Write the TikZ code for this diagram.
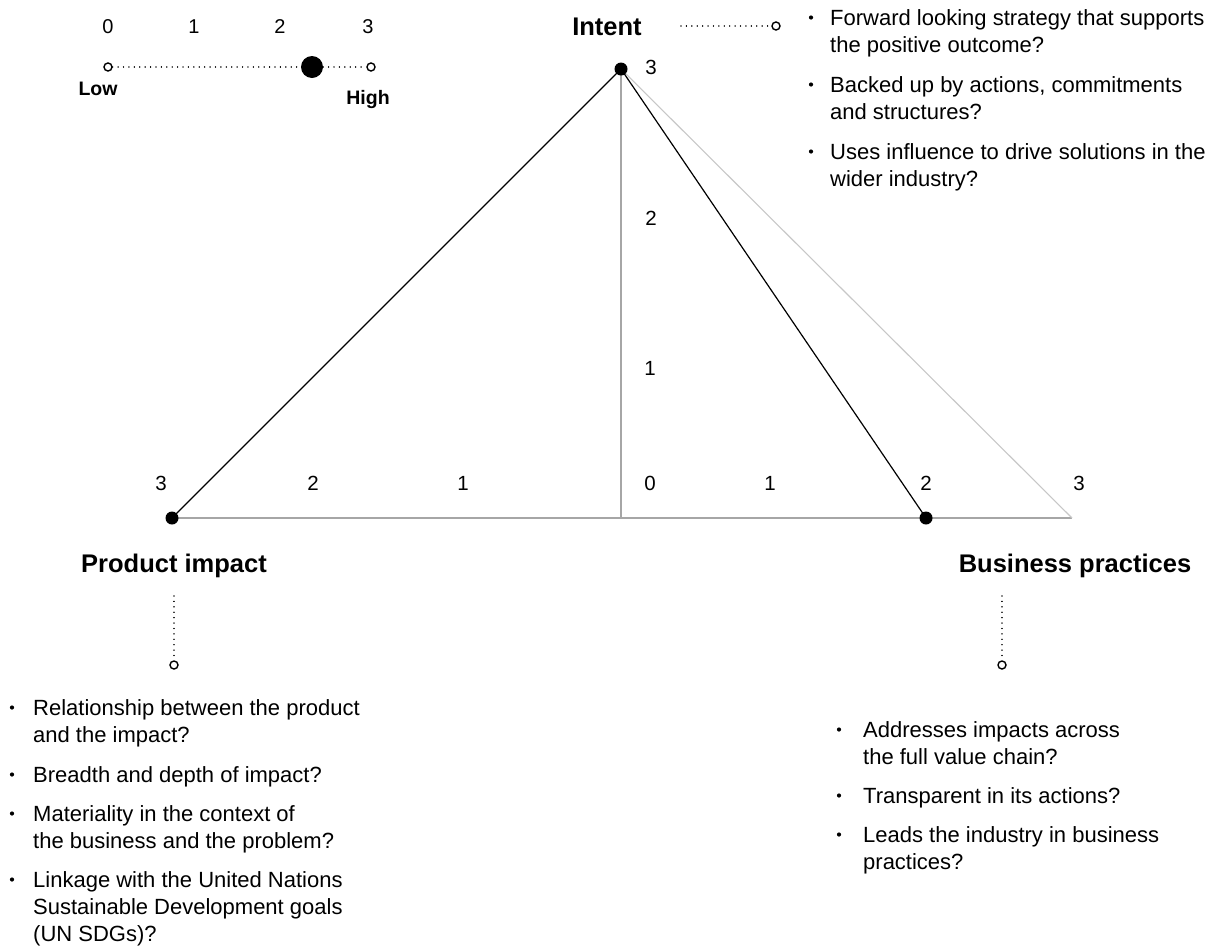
\documentclass[tikz,border=0pt]{standalone}
\usepackage{fontspec}
\setmainfont{Liberation Sans}
\newcommand{\bodyfont}{\fontsize{22}{27}\selectfont}
\newcommand{\lines}[1]{\begin{tabular}[t]{@{}l@{}}#1\end{tabular}}
\begin{document}
\begin{tikzpicture}[x=1pt,y=-1pt,
  num/.style={font=\fontsize{20.5}{24}\selectfont, inner sep=0pt},
  lnum/.style={font=\fontsize{20}{24}\selectfont, inner sep=0pt},
  ttl/.style={font=\bfseries\fontsize{25.5}{30}\selectfont, inner sep=0pt, anchor=base},
  lh/.style={font=\bfseries\fontsize{19.5}{22}\selectfont, inner sep=0pt, anchor=base},
  txt/.style={font=\bodyfont, inner sep=0pt, anchor=base west},
  bul/.style={circle, fill=black, inner sep=0pt, minimum size=4.2pt, yshift=7.5pt},
  dotline/.style={line width=1.4pt, dash pattern=on 0.01pt off 5.4pt, line cap=round},
  ring/.style={circle, draw, line width=1.4pt, fill=white, inner sep=0pt, minimum size=8pt},
  vdot/.style={circle, fill=black, inner sep=0pt, minimum size=13pt},
  axis/.style={draw=black!35, line width=1.8pt},
  thin grey/.style={draw=black!22, line width=1.1pt},
  edge/.style={draw=black, line width=1.2pt}
]
\useasboundingbox (0,0) rectangle (1227,946);
% coordinates
\coordinate (I) at (621,69);
\coordinate (P) at (172,518);
\coordinate (B) at (926,518);
\coordinate (O) at (621,518);
\coordinate (E) at (1072,518);
% axes
\draw[axis] (P) -- (E);
\draw[axis] (I) -- (O);
\draw[thin grey] (I) -- (E);
\draw[edge] (P) -- (I) -- (B);
\node[vdot] (vi) at (I) {};
\node[vdot] (vp) at (P) {};
\node[vdot] (vb) at (B) {};
% axis numbers
\node[num] (a3i) at (651,67) {3};
\node[num] (a2i) at (651,218) {2};
\node[num] (a1i) at (650,368) {1};
\node[num] (p3) at (161,483) {3};
\node[num] (p2) at (313,483) {2};
\node[num] (p1) at (463,483) {1};
\node[num] (o0) at (650,483) {0};
\node[num] (b1) at (770,483) {1};
\node[num] (b2) at (926,483) {2};
\node[num] (b3) at (1079,483) {3};
% titles
\node[ttl] (tI) at (607,35) {Intent};
\node[ttl] (tP) at (174,572) {Product impact};
\node[ttl] (tB) at (1075,572) {Business practices};
% intent leader
\coordinate (il) at (681,26);
\node[ring] (ir) at (776,26) {};
\draw[dotline] (il) -- (ir.west);
% product leader
\coordinate (pl) at (174,596);
\node[ring] (pr) at (174,665) {};
\draw[dotline] (pl) -- (pr.north);
% business leader
\coordinate (bl) at (1002,596);
\node[ring] (br) at (1002,665) {};
\draw[dotline] (bl) -- (br.north);
% intent bullets
\node[bul] (ib1) at (811,25) {};
\node[txt] (it1) at (830,25) {\lines{Forward looking strategy that supports\\the positive outcome?}};
\node[bul] (ib2) at (811,92) {};
\node[txt] (it2) at (830,92) {\lines{Backed up by actions, commitments\\and structures?}};
\node[bul] (ib3) at (811,159) {};
\node[txt] (it3) at (830,159) {\lines{Uses influence to drive solutions in the\\wider industry?}};
% product bullets
\node[bul] (pb1) at (12,715) {};
\node[txt] (pt1) at (33,715) {\lines{Relationship between the product\\and the impact?}};
\node[bul] (pb2) at (12,782) {};
\node[txt] (pt2) at (33,782) {\lines{Breadth and depth of impact?}};
\node[bul] (pb3) at (12,821) {};
\node[txt] (pt3) at (33,821) {\lines{Materiality in the context of\\the business and the problem?}};
\node[bul] (pb4) at (12,887) {};
\node[txt] (pt4) at (33,887) {\lines{Linkage with the United Nations\\Sustainable Development goals\\(UN SDGs)?}};
% business bullets
\node[bul] (bb1) at (839,737) {};
\node[txt] (bt1) at (863,737) {\lines{Addresses impacts across\\the full value chain?}};
\node[bul] (bb2) at (839,803) {};
\node[txt] (bt2) at (863,803) {\lines{Transparent in its actions?}};
\node[bul] (bb3) at (839,842) {};
\node[txt] (bt3) at (863,842) {\lines{Leads the industry in business\\practices?}};
% legend
\node[lnum] (l0) at (108,27) {0};
\node[lnum] (l1) at (194,27) {1};
\node[lnum] (l2) at (280,27) {2};
\node[lnum] (l3) at (368,27) {3};
\node[ring] (lr0) at (108,67) {};
\node[ring] (lr3) at (371,67) {};
\node[circle, fill=black, inner sep=0pt, minimum size=22pt] (ld) at (312,67) {};
\draw[dotline] (lr0.east) -- (ld.west);
\draw[dotline] (ld.east) -- (lr3.west);
\node[lh] (low) at (98,95) {Low};
\node[lh] (high) at (368,104) {High};
\end{tikzpicture}
\end{document}
